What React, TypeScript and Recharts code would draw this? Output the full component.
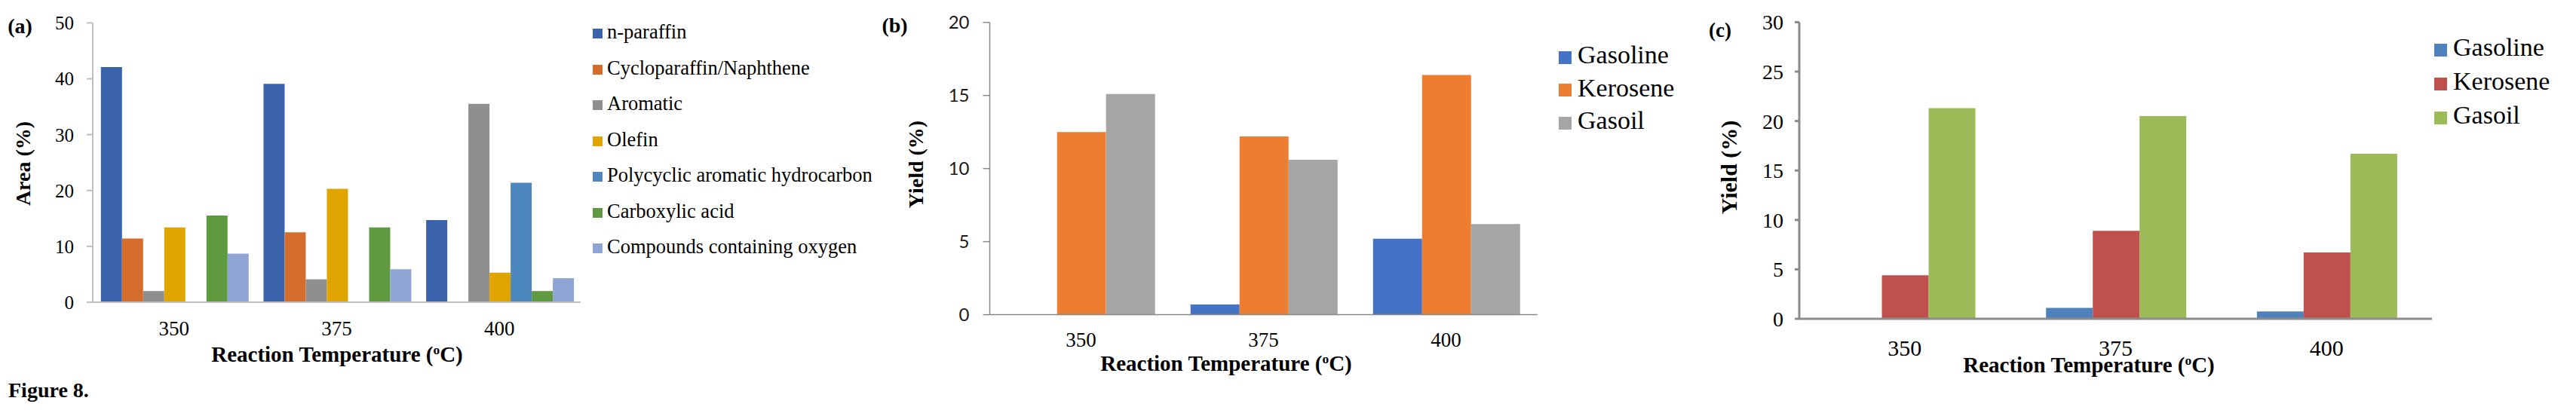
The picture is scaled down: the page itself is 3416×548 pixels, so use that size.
import { BarChart, Bar, XAxis, YAxis, Legend } from "recharts";

const temperatures = ["350", "375", "400"];

// (a) GC-MS area of compound classes
const compoundNames = [
  "n-paraffin", "Cycloparaffin/Naphthene", "Aromatic", "Olefin",
  "Polycyclic aromatic hydrocarbon", "Carboxylic acid", "Compounds containing oxygen",
];
const nParaffin = [42.1, 39.1, 14.7];
const cycloparaffin = [11.4, 12.5, 0];
const aromatic = [2.0, 4.1, 35.5];
const olefin = [13.4, 20.3, 5.3];
const polycyclic = [0, 0, 21.4];
const carboxylic = [15.5, 13.4, 2.0];
const oxygenates = [8.7, 5.9, 4.3];
const compoundColors = ["#3A63AB", "#D46C2B", "#8F8F8F", "#E0A500", "#4C88BD", "#5F9A40", "#8EA5D6"];
const ticksA = [0, 10, 20, 30, 40, 50];

// (b) and (c) product fractions
const fractionNames = ["Gasoline", "Kerosene", "Gasoil"];
const gasolineB = [0, 0.7, 5.2];
const keroseneB = [12.5, 12.2, 16.4];
const gasoilB = [15.1, 10.6, 6.2];
const colorsB = ["#4472C4", "#ED7D31", "#A5A5A5"];
const ticksB = [0, 5, 10, 15, 20];

const gasolineC = [0, 1.1, 0.75];
const keroseneC = [4.4, 8.9, 6.7];
const gasoilC = [21.3, 20.5, 16.7];
const colorsC = ["#4F81BD", "#C0504D", "#9BBB59"];
const ticksC = [0, 5, 10, 15, 20, 25, 30];

const SERIF = "'Liberation Serif', 'Times New Roman', serif";

const toRows = (series: number[][]) =>
  temperatures.map((t, i) => {
    const row: Record<string, string | number> = { temp: t };
    series.forEach((s, k) => { row[`s${k}`] = s[i]; });
    return row;
  });

interface PanelProps {
  left: number;
  width: number;
  margin: { top: number; right: number; bottom: number; left: number };
  yWidth: number;
  xHeight: number;
  ticks: number[];
  names: string[];
  colors: string[];
  series: number[][];
  gap: string;
  axisColor: string;
  axisWidth: number;
  yTick: Record<string, string | number>;
  yTickSize: number;
  yTickMargin: number;
  xFont: number;
  xTickMargin: number;
  legend: { left: number; top: number; fontSize: number; lineHeight: number; iconSize: number; pad: number };
}

function Panel(p: PanelProps) {
  const data = toRows(p.series);
  return (
    <div style={{ position: "absolute", left: p.left, top: 0 }}>
      <BarChart width={p.width} height={540} data={data} margin={p.margin} barCategoryGap={p.gap} barGap={0}>
        <XAxis
          dataKey="temp"
          height={p.xHeight}
          tickLine={false}
          tickSize={0}
          tickMargin={p.xTickMargin}
          axisLine={{ stroke: p.axisColor, strokeWidth: p.axisWidth }}
          tick={{ fontFamily: SERIF, fontSize: p.xFont, fill: "#000" }}
        />
        <YAxis
          width={p.yWidth}
          domain={[0, p.ticks[p.ticks.length - 1]]}
          ticks={p.ticks}
          interval={0}
          tickSize={p.yTickSize}
          tickMargin={p.yTickMargin}
          axisLine={{ stroke: p.axisColor, strokeWidth: p.axisWidth }}
          tickLine={{ stroke: p.axisColor, strokeWidth: p.axisWidth }}
          tick={p.yTick}
        />
        <Legend
          layout="vertical"
          align="center"
          verticalAlign="middle"
          iconType="square"
          iconSize={p.legend.iconSize}
          itemSorter="dataKey"
          wrapperStyle={{
            left: p.legend.left,
            top: p.legend.top,
            width: "auto",
            whiteSpace: "nowrap",
            fontFamily: SERIF,
            fontSize: p.legend.fontSize,
            lineHeight: `${p.legend.lineHeight}px`,
          }}
          formatter={(value) => (
            <span style={{ color: "#000", paddingLeft: p.legend.pad, fontSize: p.legend.fontSize, fontFamily: SERIF }}>
              {value}
            </span>
          )}
        />
        {p.names.map((name, k) => (
          <Bar key={name} dataKey={`s${k}`} name={name} fill={p.colors[k]} isAnimationActive={false} />
        ))}
      </BarChart>
    </div>
  );
}

function XTitle({ x, y, size }: { x: number; y: number; size: number }) {
  return (
    <text x={x} y={y} textAnchor="middle" fontWeight="bold" fontSize={size}>
      Reaction Temperature (<tspan fontSize={size * 0.6} dy={-size * 0.36}>o</tspan>
      <tspan dy={size * 0.36}>C)</tspan>
    </text>
  );
}

function YTitle({ x, y, size, text }: { x: number; y: number; size: number; text: string }) {
  return (
    <text x={x} y={y} textAnchor="middle" fontWeight="bold" fontSize={size} transform={`rotate(-90 ${x} ${y})`}>
      {text}
    </text>
  );
}

export default function App() {
  return (
    <div style={{ position: "relative", width: 3400, height: 540, fontFamily: SERIF, background: "#fff" }}>
      <Panel
        left={0}
        width={1160}
        margin={{ top: 22.4, right: 398, bottom: 57, left: 45 }}
        yWidth={70}
        xHeight={90}
        ticks={ticksA}
        names={compoundNames}
        colors={compoundColors}
        series={[nParaffin, cycloparaffin, aromatic, olefin, polycyclic, carboxylic, oxygenates]}
        gap="5%"
        axisColor="#BFBFBF"
        axisWidth={2}
        yTick={{ fontFamily: SERIF, fontSize: 25, fill: "#000" }}
        yTickSize={8}
        yTickMargin={17}
        xFont={27}
        xTickMargin={25}
        legend={{ left: 778, top: 11, fontSize: 26.5, lineHeight: 47.5, iconSize: 13, pad: 2 }}
      />
      <Panel
        left={1222}
        width={1000}
        margin={{ top: 21.7, right: 191.4, bottom: 70.4, left: 32.5 }}
        yWidth={50}
        xHeight={60}
        ticks={ticksB}
        names={fractionNames}
        colors={colorsB}
        series={[gasolineB, keroseneB, gasoilB]}
        gap="10%"
        axisColor="#898989"
        axisWidth={1.5}
        yTick={{ fontFamily: "Lato, 'Open Sans', sans-serif", fontSize: 24, fill: "#1a1a1a" }}
        yTickSize={9}
        yTickMargin={18}
        xFont={27}
        xTickMargin={23}
        legend={{ left: 837, top: 43, fontSize: 34, lineHeight: 43.5, iconSize: 17, pad: 4 }}
      />
      <Panel
        left={2292}
        width={1100}
        margin={{ top: 21.4, right: 175, bottom: 65, left: 36 }}
        yWidth={50}
        xHeight={60}
        ticks={ticksC}
        names={fractionNames}
        colors={colorsC}
        series={[gasolineC, keroseneC, gasoilC]}
        gap="17%"
        axisColor="#8C8C8C"
        axisWidth={3}
        yTick={{ fontFamily: SERIF, fontSize: 28, fill: "#000" }}
        yTickSize={6}
        yTickMargin={15}
        xFont={30}
        xTickMargin={28}
        legend={{ left: 928, top: 32, fontSize: 34, lineHeight: 45, iconSize: 17, pad: 4 }}
      />
      <svg
        width={3400}
        height={540}
        style={{ position: "absolute", left: 0, top: 0, pointerEvents: "none", fontFamily: SERIF }}
      >
        <text x={18.5} y={36} textAnchor="middle" fontWeight="bold" fontSize={28}>(a)</text>
        <text x={1178.5} y={35} textAnchor="middle" fontWeight="bold" fontSize={28}>(b)</text>
        <text x={2273} y={41} textAnchor="middle" fontWeight="bold" fontSize={27}>(c)</text>
        <YTitle x={32} y={209} size={28} text="Area (%)" />
        <YTitle x={1216} y={210} size={28} text="Yield (%)" />
        <YTitle x={2295} y={214} size={30} text="Yield (%)" />
        <XTitle x={439} y={472} size={29} />
        <XTitle x={1618} y={484} size={29} />
        <XTitle x={2762} y={486} size={29} />
        <text x={3} y={519} fontWeight="bold" fontSize={28}>Figure 8.</text>
      </svg>
    </div>
  );
}
